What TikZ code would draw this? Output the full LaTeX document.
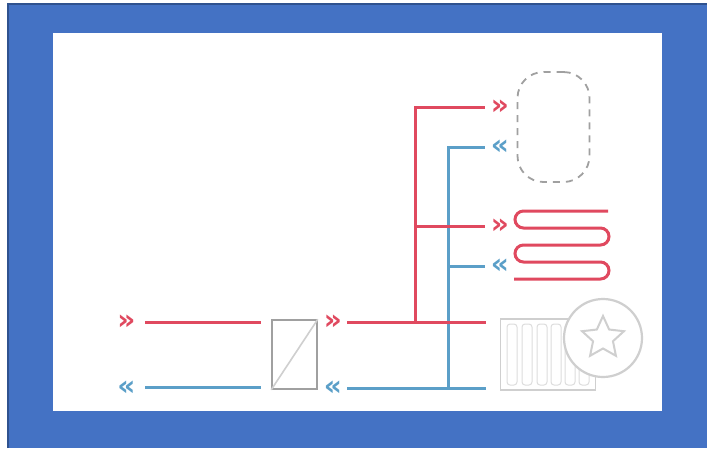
\documentclass[tikz,border=0pt]{standalone}
\usepackage{xcolor}
\usepackage{fontspec}
\setmainfont{DejaVu Sans}
\usetikzlibrary{shapes.geometric,positioning,calc}
\definecolor{panelblue}{HTML}{4472C4}
\definecolor{paneledge}{HTML}{2F528F}
\definecolor{hotred}{HTML}{E0495F}
\definecolor{coldblue}{HTML}{5B9FC8}
\definecolor{unitgray}{HTML}{A0A0A0}
\definecolor{softgray}{HTML}{CFCFCF}
\begin{document}
\begin{tikzpicture}[
  x=1pt,y=-1pt,
  hot/.style={draw=hotred,line width=3pt},
  cold/.style={draw=coldblue,line width=3pt},
  hotmark/.style={text=hotred,inner sep=0pt,font=\bfseries\fontsize{28}{28}\selectfont},
  coldmark/.style={text=coldblue,inner sep=0pt,font=\bfseries\fontsize{28}{28}\selectfont},
]
\useasboundingbox (0,0) rectangle (707,448);
\fill[white] (0,0) rectangle (707,448);
\fill[panelblue] (8,4) rectangle (707,448);
\draw[draw=paneledge,line width=2.2pt] (8,448) -- (8,4) -- (707,4);
\fill[white] (53,33) rectangle (662,411);

% heat exchanger
\node[draw=unitgray,line width=1.6pt,minimum width=45pt,minimum height=69pt,inner sep=0pt] (exch) at (294.5,354.5) {};
\draw[draw=softgray,line width=1.6pt] (exch.south west) -- (exch.north east);

% storage tank
\node[draw=unitgray,dash pattern=on 7pt off 6pt,line width=1.8pt,rounded corners=26pt,minimum width=72pt,minimum height=110pt,inner sep=0pt] (tank) at (553.5,127) {};

% floor heating coil
\coordinate (coilin) at (608,211);
\coordinate (coilout) at (514,279);
\draw[hot] (coilin) -- (523.5,211) arc[start angle=-90,end angle=-270,radius=8.5] -- (600.5,228)
  arc[start angle=-90,end angle=90,radius=8.5] -- (523.5,245)
  arc[start angle=-90,end angle=-270,radius=8.5] -- (600.5,262)
  arc[start angle=-90,end angle=90,radius=8.5] -- (coilout);

% radiator
\node[draw=softgray,line width=1.8pt,minimum width=95pt,minimum height=71pt,inner sep=0pt] (rad) at (548,354.5) {};
\foreach \px in {512,527,542,556,570,584} {
  \draw[draw=softgray!70,line width=1pt,rounded corners=3pt] (\px-5,324) rectangle (\px+5,385);
}

% rating badge
\node[draw=softgray,fill=white,circle,line width=2.2pt,minimum size=78pt,inner sep=0pt] (badge) at (603,338) {};
\node[draw=softgray,star,star points=5,star point ratio=2.1,line width=2pt,minimum size=44pt,inner sep=0pt] (fav) at (603,338) {};

% chevrons
\node[hotmark] (inhot) at (126.5,322) {»};
\node[coldmark] (incold) at (126.5,388) {«};
\node[hotmark] (outhot) at (333,322) {»};
\node[coldmark] (outcold) at (333,388) {«};
\node[hotmark] (tankhot) at (500,107) {»};
\node[coldmark] (tankcold) at (500,147) {«};
\node[hotmark] (coilhot) at (500,226) {»};
\node[coldmark] (coilcold) at (500,266) {«};

% ends of the pipes
\coordinate (a1) at (145,322);
\coordinate (a2) at (261,322);
\coordinate (b1) at (145,387);
\coordinate (b2) at (261,387);
\coordinate (c1) at (347,322);
\coordinate (c2) at (486,322);
\coordinate (d1) at (347,388);
\coordinate (d2) at (486,388);
\coordinate (hotriser) at (415,322);
\coordinate (coldriser) at (448,388);
\coordinate (e1) at (485,107);
\coordinate (e2) at (485,147);
\coordinate (e3) at (485,226);
\coordinate (e4) at (485,266);

\draw[hot] (a1) -- (a2);
\draw[cold] (b1) -- (b2);
\draw[cold] (d1) -- (d2);
\draw[cold] (coldriser) |- (e2);
\draw[cold] (coldriser |- e4) -- (e4);
\draw[hot] (c1) -- (c2);
\draw[hot] (hotriser) |- (e1);
\draw[hot] (hotriser |- e3) -- (e3);
\end{tikzpicture}
\end{document}
